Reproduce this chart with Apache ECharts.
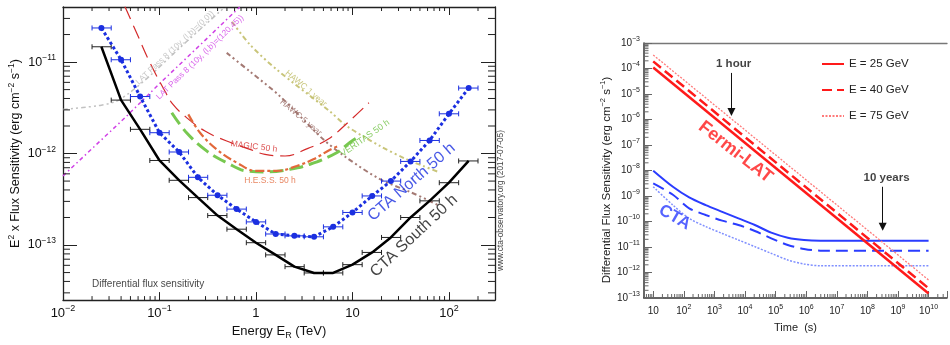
<!DOCTYPE html>
<html>
<head>
<meta charset="utf-8">
<script src="https://cdn.jsdelivr.net/npm/echarts@6.0.0/dist/echarts.min.js"></script>
<style>
html,body{margin:0;padding:0;background:#ffffff;}
#chart{width:950px;height:345px;}
</style>
</head>
<body>
<div id="chart"></div>
<script>
// ================= LEFT PANEL: differential flux sensitivity =================
// Energy E in TeV, E^2 x flux in erg cm^-2 s^-1
const ctaEnergy = [0.025, 0.04, 0.063, 0.1, 0.16, 0.25, 0.4, 0.63, 1.0, 1.6, 2.5, 4.0, 6.3, 10, 16, 25, 40, 63, 100, 160];
const binEdges  = [0.02, 0.0316, 0.05, 0.0794, 0.126, 0.2, 0.316, 0.5, 0.794, 1.26, 2.0, 3.16, 5.0, 7.94, 12.6, 20, 31.6, 50, 79.4, 126, 200];
const ctaSouth  = [1.47e-11, 3.84e-12, 1.84e-12, 8.4e-13, 5.1e-13, 3.3e-13, 2.1e-13, 1.49e-13, 1.06e-13, 7.8e-14,
                   5.8e-14, 4.95e-14, 4.95e-14, 6.1e-14, 8.3e-14, 1.21e-13, 2.0e-13, 3.04e-13, 4.8e-13, 8.3e-13];
const ctaNorth  = [2.36e-11, 1.06e-11, 4.2e-12, 1.69e-12, 1.04e-12, 5.5e-13, 3.5e-13, 2.47e-13, 1.79e-13, 1.32e-13,
                   1.26e-13, 1.23e-13, 1.58e-13, 2.27e-13, 3.44e-13, 5.0e-13, 8.2e-13, 1.39e-12, 2.72e-12, 5.2e-12];
const latGalCentre = [[0.01,3.03e-12],[0.0161,3.19e-12],[0.0242,3.36e-12],[0.036,3.74e-12],[0.0494,4.65e-12],
                      [0.0798,7.1e-12],[0.163,1.44e-11],[0.424,3.58e-11],[0.478,4.0e-11]];
const latHighLat   = [[0.01,5.7e-13],[0.044,2.47e-12],[0.1,5.8e-12],[0.3,1.75e-11],[0.582,3.43e-11],[0.68,4.0e-11]];
const magic50h  = [[0.0438,4.06e-11],[0.058,2.08e-11],[0.0798,9.8e-12],[0.114,4.8e-12],[0.138,3.44e-12],[0.191,2.47e-12],
                   [0.296,1.76e-12],[0.497,1.37e-12],[0.867,1.11e-12],[1.24,9.8e-13],[2.0,9.4e-13],[3.46,1.14e-12],
                   [5.57,1.43e-12],[8.98,2.19e-12],[14.8,3.59e-12]];
const hess50h   = [[0.199,2.68e-12],[0.263,1.69e-12],[0.392,1.11e-12],[0.631,7.96e-13],[1.02,6.45e-13],[1.64,6.45e-13],
                   [2.64,7.3e-13],[3.93,8.65e-13],[5.85,1.1e-12],[7.4,1.23e-12]];
const veritas50h= [[0.134,2.79e-12],[0.191,1.69e-12],[0.308,1.07e-12],[0.497,7.96e-13],[0.80,6.45e-13],[1.29,6.3e-13],
                   [2.25,6.73e-13],[3.63,7.64e-13],[6.86,1.02e-12],[9.4,1.32e-12],[12.2,1.58e-12]];
const hawc1yr   = [[0.564,2.76e-11],[0.867,1.55e-11],[1.64,8.28e-12],[5.85,2.88e-12],[8.7,2.0e-12],[19.3,1.21e-12],
                   [36.4,8.65e-13],[54.2,7.3e-13],[80.7,6.2e-13]];
const hawc5yr   = [[0.497,1.26e-11],[0.867,7.87e-12],[1.77,4.24e-12],[4.98,1.43e-12],[8.7,9.0e-13],[19.3,5.24e-13],
                   [39.4,3.81e-13],[61,3.09e-13],[79.5,2.68e-13]];
const leftNoteText = ['CTA North 50 h','CTA South 50 h','MAGIC 50 h','H.E.S.S. 50 h','VERITAS 50 h',
                      'HAWC 1 year','HAWC 5 year','LAT Pass 8 (10y, (l,b)=(0,0))','LAT Pass 8 (10y, (l,b)=(120,45))',
                      'Differential flux sensitivity'];
const leftNoteAt   = [[41,4.86e-13],[43.4,1.26e-13],[0.953,1.19e-12],[1.40,5.04e-13],[13.5,1.47e-12],
                      [3.3,5.14e-12],[2.92,2.48e-12],[0.145,1.43e-11],[0.263,1.13e-11],[0.02,3.76e-14]];
const leftRange = {eMin:0.01, eMax:300, fMin:2.5e-14, fMax:4e-11};

// ================= RIGHT PANEL: sensitivity vs observation time =================
// time in s, differential flux sensitivity in erg cm^-2 s^-1
const fermiTime = [10, 1e10];
const fermi25 = [1.1e-4, 1.5e-13];
const fermi40 = [1.9e-4, 2.4e-13];
const fermi75 = [3.4e-4, 5.1e-13];
const ctaTime = [10, 44, 150, 520, 1800, 6100, 2.1e4, 7.2e4, 2.5e5, 8.5e5, 2.9e6, 1e10];
const cta25 = [9.8e-9, 2.3e-9, 8.8e-10, 4.4e-10, 2.4e-10, 1.33e-10, 7.3e-11, 3.65e-11, 2.32e-11, 1.88e-11, 1.77e-11, 1.77e-11];
const cta40 = [3.1e-9, 1.12e-9, 3.3e-10, 1.8e-10, 1.08e-10, 7.3e-11, 4.24e-11, 2.19e-11, 1.2e-11, 8.4e-12, 7.2e-12, 7.2e-12];
const cta75 = [2.3e-9, 4.4e-10, 1.33e-10, 6.3e-11, 3.4e-11, 1.88e-11, 1.03e-11, 5.65e-12, 3.1e-12, 2.15e-12, 1.85e-12, 1.85e-12];
const legendNames = ['E = 25 GeV', 'E = 40 GeV', 'E = 75 GeV'];
const rightNoteText = ['1 hour', '10 years', 'Fermi-LAT', 'CTA'];
const rightNoteAt   = [[4240,1.5e-4],[4.24e8,5.3e-9],[4900,5.3e-8],[50,1.46e-10]];
const arrowTime = [3600, 3.156e8];
const arrowFrom = [6.7e-5, 2.3e-9];
const arrowTo   = [1.97e-6, 6.25e-11];
const rightRange = {tMin:5, tMax:4e10, fMin:1e-13, fMax:1e-3};

// ================= helpers =================
const lg = Math.log10;
const FONT = 'Liberation Sans, Arial, Helvetica, sans-serif';
const pairs = arr => arr.map(p => [lg(p[0]), lg(p[1])]);
const zip = (xs, ys) => xs.map((x, i) => [lg(x), lg(ys[i])]);

function powFmt(plainTen) {
  return function (v) {
    const e = Math.round(v);
    if (Math.abs(v - e) > 1e-6) return '';
    if (e === 0) return '{b|1}';
    if (e === 1 && plainTen) return '{b|10}';
    return '{b|10}{s|' + (e < 0 ? '\u2212' + (-e) : e) + '}';
  };
}
function richPow(base, sup, color) {
  return {
    b: {fontSize: base, lineHeight: base + 5, fontFamily: FONT, color: color},
    s: {fontSize: sup, lineHeight: sup, verticalAlign: 'top', fontFamily: FONT, color: color}
  };
}
function minorTickData(x0, x1, y0, y1) {
  const out = [];
  for (let n = Math.floor(x0); n <= Math.ceil(x1); n++)
    for (let k = 2; k <= 9; k++) { const v = n + lg(k); if (v > x0 && v < x1) out.push([v, y0, 0]); }
  for (let n = Math.floor(y0); n <= Math.ceil(y1); n++)
    for (let k = 2; k <= 9; k++) { const v = n + lg(k); if (v > y0 && v < y1) out.push([x0, v, 1]); }
  return out;
}
function minorTickSeries(xi, yi, x0, x1, y0, y1, lenX, lenY, mirror, color) {
  return {
    type: 'custom', xAxisIndex: xi, yAxisIndex: yi, silent: true, z: 5,
    dimensions: ['x', 'y', 'c'], encode: {x: 0, y: 1},
    data: minorTickData(x0, x1, y0, y1),
    renderItem: function (params, api) {
      const st = {stroke: color, lineWidth: 1};
      const ch = [];
      if (api.value(2) === 0) {
        const b = api.coord([api.value(0), y0]);
        ch.push({type: 'line', shape: {x1: b[0], y1: b[1], x2: b[0], y2: b[1] - lenX}, style: st});
        if (mirror) { const t = api.coord([api.value(0), y1]);
          ch.push({type: 'line', shape: {x1: t[0], y1: t[1], x2: t[0], y2: t[1] + lenX}, style: st}); }
      } else {
        const l = api.coord([x0, api.value(1)]);
        ch.push({type: 'line', shape: {x1: l[0], y1: l[1], x2: l[0] + lenY, y2: l[1]}, style: st});
        if (mirror) { const r = api.coord([x1, api.value(1)]);
          ch.push({type: 'line', shape: {x1: r[0], y1: r[1], x2: r[0] - lenY, y2: r[1]}, style: st}); }
      }
      return {type: 'group', children: ch};
    }
  };
}
function errorBarSeries(fluxes, color) {
  return {
    type: 'custom', xAxisIndex: 0, yAxisIndex: 0, silent: true, z: 6,
    dimensions: ['lo', 'hi', 'f'], encode: {x: [0, 1], y: 2},
    data: fluxes.map((f, i) => [lg(binEdges[i]), lg(binEdges[i + 1]), lg(f)]),
    renderItem: function (params, api) {
      const a = api.coord([api.value(0), api.value(2)]);
      const b = api.coord([api.value(1), api.value(2)]);
      const st = {stroke: color, lineWidth: 1};
      return {type: 'group', children: [
        {type: 'line', shape: {x1: a[0], y1: a[1], x2: b[0], y2: b[1]}, style: st},
        {type: 'line', shape: {x1: a[0], y1: a[1] - 2.5, x2: a[0], y2: a[1] + 2.5}, style: st},
        {type: 'line', shape: {x1: b[0], y1: b[1] - 2.5, x2: b[0], y2: b[1] + 2.5}, style: st}
      ]};
    }
  };
}
function curve(data, color, width, dash, smooth) {
  return {type: 'line', xAxisIndex: 0, yAxisIndex: 0, data: pairs(data), symbol: 'none', smooth: smooth,
          lineStyle: {color: color, width: width, type: dash}, silent: true, z: 3};
}

// ================= styles for notes =================
const BLUE = '#1b2fe0';
const leftNoteStyle = [
  {color: BLUE, fontSize: 16, rotate: 41},
  {color: '#111111', fontSize: 16, rotate: 43},
  {color: '#d42a2a', fontSize: 8.5, rotate: -7},
  {color: '#e2683a', fontSize: 8.5, rotate: 0},
  {color: '#6cc040', fontSize: 9, rotate: 35},
  {color: '#bdb960', fontSize: 8.5, rotate: -40},
  {color: '#9a6a64', fontSize: 8.5, rotate: -40},
  {color: '#b8b8b8', fontSize: 8.3, rotate: 43},
  {color: '#d040e6', fontSize: 8.3, rotate: 44},
  {color: '#111111', fontSize: 10, rotate: 0, align: 'left'}
];
const rightNoteStyle = [
  {color: '#111111', fontSize: 11.5, rotate: 0, fontWeight: 'bold'},
  {color: '#111111', fontSize: 11.5, rotate: 0, fontWeight: 'bold'},
  {color: '#ff1a1a', fontSize: 18, rotate: -38, fontWeight: 'bold'},
  {color: '#2a3cff', fontSize: 17, rotate: -30, fontWeight: 'bold'}
];
function noteSeries(xi, yi, texts, at, styles) {
  return {
    type: 'scatter', xAxisIndex: xi, yAxisIndex: yi, silent: true, z: 20, symbolSize: 1,
    itemStyle: {color: 'rgba(255,255,255,0)'},
    labelLayout: {hideOverlap: false},
    label: {show: true, position: 'inside', fontFamily: FONT},
    data: texts.map((t, i) => ({
      value: [lg(at[i][0]), lg(at[i][1])],
      label: Object.assign({show: true, formatter: t, align: 'center', verticalAlign: 'middle'}, styles[i])
    }))
  };
}

const L = {x0: lg(leftRange.eMin), x1: lg(leftRange.eMax), y0: lg(leftRange.fMin), y1: lg(leftRange.fMax)};
const R = {x0: lg(rightRange.tMin), x1: lg(rightRange.tMax), y0: lg(rightRange.fMin), y1: lg(rightRange.fMax)};

const axL = '#222222', axR = '#666666';
function valAxis(extra) {
  return Object.assign({type: 'value', minInterval: 1, maxInterval: 1, splitNumber: 4, splitLine: {show: false},
                        axisLine: {show: true, onZero: false}}, extra);
}

const option = {
  animation: false,
  backgroundColor: '#ffffff',
  textStyle: {fontFamily: FONT},
  grid: [
    {left: 63, top: 7, width: 432, height: 295},
    {left: 644, top: 43, width: 308, height: 255}
  ],
  legend: {
    left: 816, top: 53, orient: 'vertical', itemWidth: 22, itemHeight: 12, itemGap: 14,
    selectedMode: false, data: legendNames, itemStyle: {opacity: 0},
    textStyle: {fontSize: 11.5, color: '#222222', fontFamily: FONT}
  },
  xAxis: [
    valAxis({gridIndex: 0, min: L.x0, max: L.x1, position: 'bottom',
      axisLine: {show: true, onZero: false, lineStyle: {color: axL, width: 1.3}},
      axisTick: {inside: true, length: 8, lineStyle: {color: axL}},
      axisLabel: {formatter: powFmt(true), margin: 4, rich: richPow(13, 9, '#111111')},
      name: '{b|Energy E}{u|R}{b| (TeV)}', nameLocation: 'middle', nameGap: 17,
      nameTextStyle: {rich: {b: {fontSize: 13, lineHeight: 18, color: '#111', fontFamily: FONT},
                             u: {fontSize: 9, lineHeight: 9, verticalAlign: 'bottom', color: '#111', fontFamily: FONT}}}}),
    valAxis({gridIndex: 0, min: L.x0, max: L.x1, position: 'top',
      axisLine: {show: true, onZero: false, lineStyle: {color: axL, width: 1.3}},
      axisTick: {inside: true, length: 8, lineStyle: {color: axL}}, axisLabel: {show: false}}),
    valAxis({gridIndex: 1, min: R.x0, max: R.x1, position: 'bottom', splitNumber: 10,
      axisLine: {show: true, onZero: false, lineStyle: {color: '#333', width: 1.5}},
      axisTick: {inside: true, length: 7, lineStyle: {color: axR}},
      axisLabel: {formatter: powFmt(true), margin: 6, rich: richPow(10, 7, '#222222')},
      name: 'Time  (s)', nameLocation: 'middle', nameGap: 20,
      nameTextStyle: {fontSize: 11, lineHeight: 14, color: '#222', fontFamily: FONT}}),
    valAxis({gridIndex: 1, min: R.x0, max: R.x1, position: 'top', splitNumber: 10,
      axisLine: {show: true, onZero: false, lineStyle: {color: '#777', width: 1.3}},
      axisTick: {show: false}, axisLabel: {show: false}})
  ],
  yAxis: [
    valAxis({gridIndex: 0, min: L.y0, max: L.y1, position: 'left', splitNumber: 3,
      axisLine: {show: true, onZero: false, lineStyle: {color: axL, width: 1.3}},
      axisTick: {inside: true, length: 14, lineStyle: {color: axL}},
      axisLabel: {formatter: powFmt(false), margin: 7, rich: richPow(12.5, 8.5, '#111111')},
      name: '{b|E}{s|2}{b| x Flux Sensitivity (erg cm}{s|\u22122}{b| s}{s|\u22121}{b|)}',
      nameLocation: 'middle', nameGap: 38,
      nameTextStyle: {rich: {b: {fontSize: 12.5, lineHeight: 18, color: '#111', fontFamily: FONT},
                             s: {fontSize: 8.5, lineHeight: 9, verticalAlign: 'top', color: '#111', fontFamily: FONT}}}}),
    valAxis({gridIndex: 0, min: L.y0, max: L.y1, position: 'right', splitNumber: 3,
      axisLine: {show: true, onZero: false, lineStyle: {color: axL, width: 1.3}},
      axisTick: {inside: true, length: 14, lineStyle: {color: axL}}, axisLabel: {show: false}}),
    valAxis({gridIndex: 1, min: R.y0, max: R.y1, position: 'left', splitNumber: 10,
      axisLine: {show: true, onZero: false, lineStyle: {color: '#333', width: 1.5}},
      axisTick: {inside: true, length: 8, lineStyle: {color: axR}},
      axisLabel: {formatter: powFmt(false), margin: 4, rich: richPow(10, 7, '#222222')},
      name: '{b|Differential Flux Sensitivity (erg cm}{s|\u22122}{b| s}{s|\u22121}{b|)}',
      nameLocation: 'middle', nameGap: 26,
      nameTextStyle: {padding: [0, 19, 0, 0],
                      rich: {b: {fontSize: 11.5, lineHeight: 16, color: '#222', fontFamily: FONT},
                             s: {fontSize: 7.5, lineHeight: 8, verticalAlign: 'top', color: '#222', fontFamily: FONT}}}})
  ],
  graphic: [
    {type: 'text', left: 497, top: 130, rotation: Math.PI / 2, silent: true,
     style: {text: 'www.cta-observatory.org (2017-07-05)', fontSize: 8.3, fill: '#444', fontFamily: FONT}}
  ],
  series: [
    // --- left panel curves ---
    curve(latGalCentre, '#c2c2c2', 1.5, [5, 3, 2, 3, 2, 3], 0.3),
    curve(latHighLat, '#d040e6', 1.5, [4, 3, 1.5, 3], false),
    curve(hawc1yr, '#c9c57a', 2, [5, 3, 2, 3, 2, 3], 0.3),
    curve(hawc5yr, '#a47a74', 2, [5, 3, 2, 3, 2, 3], 0.3),
    curve(magic50h, '#d42a2a', 1.2, [14, 7], 0.4),
    curve(veritas50h, '#78c850', 3, [14, 6], 0.4),
    curve(hess50h, '#e2683a', 2.2, [9, 3, 3, 3], 0.4),
    errorBarSeries(ctaSouth, '#222222'),
    errorBarSeries(ctaNorth, BLUE),
    {type: 'line', name: 'CTA South 50 h', xAxisIndex: 0, yAxisIndex: 0, data: zip(ctaEnergy, ctaSouth),
     symbol: 'none', lineStyle: {color: '#000', width: 2.5}, silent: true, z: 7},
    {type: 'line', name: 'CTA North 50 h', xAxisIndex: 0, yAxisIndex: 0, data: zip(ctaEnergy, ctaNorth),
     symbol: 'circle', symbolSize: 6, itemStyle: {color: BLUE}, showSymbol: true,
     lineStyle: {color: BLUE, width: 3, type: [3, 2.5]}, silent: true, z: 8},
    noteSeries(0, 0, leftNoteText, leftNoteAt, leftNoteStyle),
    minorTickSeries(0, 0, L.x0, L.x1, L.y0, L.y1, 4, 7, true, axL),
    // --- right panel ---
    {type: 'line', name: legendNames[0], xAxisIndex: 2, yAxisIndex: 2, data: zip(fermiTime, fermi25),
     symbol: 'none', lineStyle: {color: '#ff1a1a', width: 2.5}, itemStyle: {color: '#ff1a1a', opacity: 0}, silent: true, z: 4},
    {type: 'line', name: legendNames[1], xAxisIndex: 2, yAxisIndex: 2, data: zip(fermiTime, fermi40),
     symbol: 'none', lineStyle: {color: '#ff1a1a', width: 2.5, type: [10, 5]}, itemStyle: {color: '#ff1a1a', opacity: 0}, silent: true, z: 4},
    {type: 'line', name: legendNames[2], xAxisIndex: 2, yAxisIndex: 2, data: zip(fermiTime, fermi75),
     symbol: 'none', lineStyle: {color: '#ff7a7a', width: 1.3, type: [2, 1.5]}, itemStyle: {color: '#ff7a7a', opacity: 0}, silent: true, z: 4},
    {type: 'line', xAxisIndex: 2, yAxisIndex: 2, data: zip(ctaTime, cta25), symbol: 'none', smooth: 0.3,
     lineStyle: {color: '#2a3cff', width: 2}, silent: true, z: 3},
    {type: 'line', xAxisIndex: 2, yAxisIndex: 2, data: zip(ctaTime, cta40), symbol: 'none', smooth: 0.3,
     lineStyle: {color: '#2a3cff', width: 2, type: [12, 6]}, silent: true, z: 3},
    {type: 'line', xAxisIndex: 2, yAxisIndex: 2, data: zip(ctaTime, cta75), symbol: 'none', smooth: 0.3,
     lineStyle: {color: '#7f8fff', width: 1.5, type: [2, 1.5]}, silent: true, z: 3},
    {type: 'lines', coordinateSystem: 'cartesian2d', xAxisIndex: 2, yAxisIndex: 2, silent: true, z: 9,
     symbol: ['none', 'triangle'], symbolSize: 8,
     lineStyle: {color: '#111', width: 1, opacity: 1},
     data: arrowTime.map((t, i) => ({coords: [[lg(t), lg(arrowFrom[i])], [lg(t), lg(arrowTo[i])]]}))},
    noteSeries(2, 2, rightNoteText, rightNoteAt, rightNoteStyle),
    minorTickSeries(2, 2, R.x0, R.x1, R.y0, R.y1, 4, 4.5, false, axR)
  ]
};

const chart = echarts.init(document.getElementById('chart'), null, {renderer: 'canvas'});
chart.setOption(option);
</script>
</body>
</html>
